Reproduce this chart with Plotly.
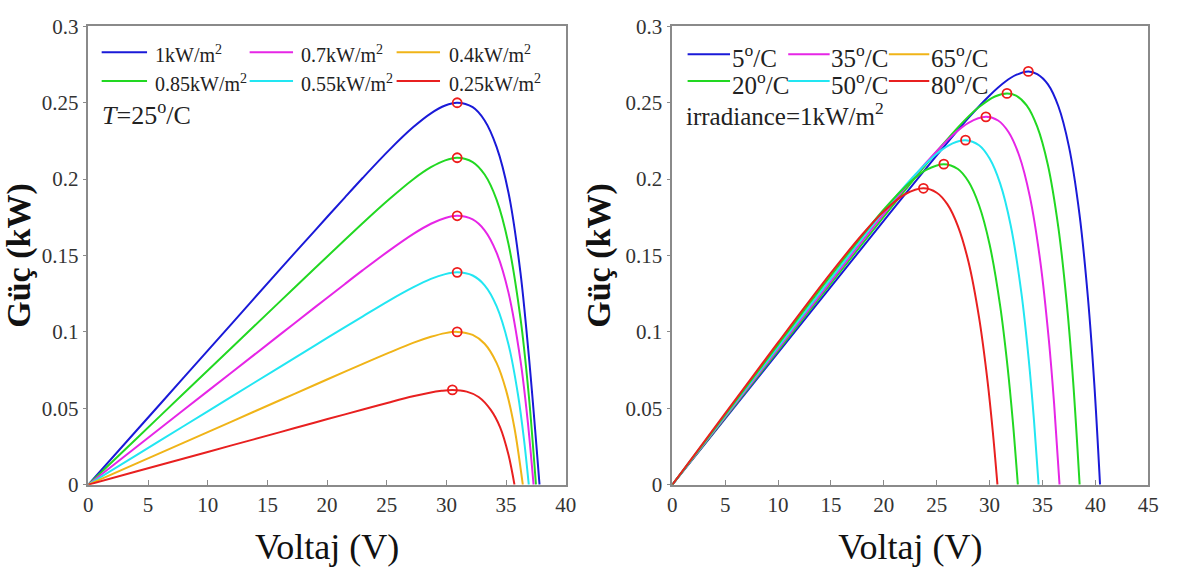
import plotly.graph_objects as go

# ---------------- Left panel: irradiance sweep at T = 25 °C ----------------
irr_labels = ["1kW/m<sup>2</sup>", "0.85kW/m<sup>2</sup>", "0.7kW/m<sup>2</sup>",
              "0.55kW/m<sup>2</sup>", "0.4kW/m<sup>2</sup>", "0.25kW/m<sup>2</sup>"]
irr_colors = ["#1a1ad8", "#22d822", "#e626e6", "#22e6f2", "#f0b418", "#e82020"]

# maximum power points (V, kW)
irr_mpp_v = [30.9, 30.9, 30.9, 30.9, 30.9, 30.5]
irr_mpp_p = [0.250, 0.214, 0.176, 0.139, 0.100, 0.062]

irr_v = [
    [0, 4, 8, 12, 16, 19, 21.5, 23, 25.2, 27.2, 28.7, 29.9, 32.2, 33.2, 34.2, 35.2, 36.2, 37.0, 37.8],
    [0, 4, 8, 12, 16, 19, 21.5, 23, 25.2, 27.2, 28.7, 29.9, 32.2, 33.2, 34.2, 35.2, 36.2, 36.9, 37.5],
    [0, 4, 8, 12, 16, 19, 21.5, 23, 25.2, 27.2, 28.7, 29.9, 32.2, 33.2, 34.2, 35.2, 36.2, 36.8, 37.3],
    [0, 4, 8, 12, 16, 19, 21.5, 23, 25.2, 27.2, 28.7, 29.9, 32.2, 33.2, 34.2, 35.2, 36.0, 36.5, 36.9],
    [0, 4, 8, 12, 16, 19, 21.5, 23, 25.2, 27.2, 28.7, 29.9, 32.2, 33.2, 34.2, 35.0, 35.7, 36.4],
    [0, 4, 8, 12, 16, 19, 21.5, 23, 25.2, 27.2, 28.5, 29.6, 31.7, 32.7, 33.7, 34.5, 35.2, 35.7],
]
irr_p = [
    [0, 0.0351, 0.0702, 0.1053, 0.1404, 0.1665, 0.1881, 0.2009, 0.2190, 0.2339, 0.2431, 0.2482,
     0.2471, 0.2384, 0.2211, 0.1911, 0.1390, 0.0760, 0],
    [0, 0.0299, 0.0598, 0.0896, 0.1195, 0.1418, 0.1603, 0.1713, 0.1868, 0.1998, 0.2078, 0.2123,
     0.2112, 0.2030, 0.1866, 0.1575, 0.1091, 0.0585, 0],
    [0, 0.0245, 0.0490, 0.0734, 0.0979, 0.1162, 0.1314, 0.1404, 0.1532, 0.1640, 0.1708, 0.1746,
     0.1736, 0.1665, 0.1519, 0.1257, 0.0815, 0.0424, 0],
    [0, 0.0192, 0.0384, 0.0576, 0.0768, 0.0912, 0.1031, 0.1102, 0.1205, 0.1291, 0.1347, 0.1378,
     0.1369, 0.1305, 0.1169, 0.0918, 0.0587, 0.0295, 0],
    [0, 0.0138, 0.0275, 0.0413, 0.0551, 0.0654, 0.0740, 0.0791, 0.0864, 0.0928, 0.0968, 0.0992,
     0.0980, 0.0922, 0.0797, 0.0617, 0.0371, 0],
    [0, 0.0086, 0.0171, 0.0257, 0.0342, 0.0407, 0.0460, 0.0492, 0.0538, 0.0578, 0.0600, 0.0614,
     0.0609, 0.0574, 0.0491, 0.0375, 0.0195, 0],
]

# ---------------- Right panel: temperature sweep at 1 kW/m² ----------------
temp_labels = ["5<sup>o</sup>/C", "20<sup>o</sup>/C", "35<sup>o</sup>/C",
               "50<sup>o</sup>/C", "65<sup>o</sup>/C", "80<sup>o</sup>/C"]
temp_colors = ["#1a1ad8", "#22d822", "#e626e6", "#22e6f2", "#22d822", "#e82020"]
temp_key_colors = ["#1a1ad8", "#22d822", "#e626e6", "#22e6f2", "#f0b418", "#e82020"]

temp_mpp_v = [33.66, 31.64, 29.65, 27.72, 25.67, 23.74]
temp_mpp_p = [0.2705, 0.2561, 0.2408, 0.2255, 0.2098, 0.194]

temp_v = [
    [0, 10, 20, 25, 28, 30, 31.5, 32.5, 34.5, 35.5, 36.5, 37.5, 38.5, 39.3, 39.9, 40.44],
    [0, 10, 20, 25, 27.5, 29, 30.5, 32.5, 33.5, 34.5, 35.5, 36.5, 37.3, 37.9, 38.51],
    [0, 10, 20, 24, 26.5, 28, 30.8, 31.8, 32.8, 33.8, 34.8, 35.6, 36.1, 36.61],
    [0, 10, 20, 23, 25, 26.5, 29, 30, 31, 32, 33, 33.7, 34.2, 34.63],
    [0, 10, 15, 20, 22.5, 24, 27, 28, 29, 30, 31, 31.7, 32.2, 32.67],
    [0, 5, 10, 15, 18, 20, 22, 25, 26, 27, 28, 29, 29.8, 30.3, 30.74],
]
temp_p = [
    [0, 0.0864, 0.1728, 0.2155, 0.2401, 0.2548, 0.2639, 0.2682, 0.2688, 0.2622, 0.2477, 0.2213, 0.1768, 0.1220, 0.0656, 0],
    [0, 0.0878, 0.1755, 0.2181, 0.2375, 0.2472, 0.2541, 0.2547, 0.2483, 0.2344, 0.2096, 0.1683, 0.1183, 0.0673, 0],
    [0, 0.0889, 0.1772, 0.2108, 0.2288, 0.2369, 0.2384, 0.2307, 0.2153, 0.1887, 0.1457, 0.0947, 0.0527, 0],
    [0, 0.0902, 0.1790, 0.2032, 0.2166, 0.2234, 0.2222, 0.2135, 0.1971, 0.1695, 0.1257, 0.0817, 0.0416, 0],
    [0, 0.0917, 0.1370, 0.1801, 0.1981, 0.2060, 0.2066, 0.1984, 0.1829, 0.1572, 0.1169, 0.0770, 0.0409, 0],
    [0, 0.0466, 0.0931, 0.1386, 0.1641, 0.1790, 0.1901, 0.1911, 0.1836, 0.1693, 0.1459, 0.1095, 0.0680, 0.0348, 0],
]

W, H = 1179, 581
SERIF = "Liberation Serif"
AXIS_GREY = "#8a8a8a"

fig = go.Figure()


def add_panel(vs, ps, mv, mp, colors, xa, ya):
    for v, p, vm, pm, c in zip(vs, ps, mv, mp, colors):
        pts = sorted(zip(list(v) + [vm], list(p) + [pm]))
        fig.add_trace(go.Scatter(
            x=[q[0] for q in pts], y=[q[1] for q in pts], mode="lines",
            line=dict(color=c, width=2, shape="spline", smoothing=0.9),
            xaxis=xa, yaxis=ya, showlegend=False, hoverinfo="skip"))
    fig.add_trace(go.Scatter(
        x=mv, y=mp, mode="markers",
        marker=dict(symbol="circle-open", size=9, color="#ee1c1c",
                    line=dict(width=1.8, color="#ee1c1c")),
        xaxis=xa, yaxis=ya, showlegend=False, hoverinfo="skip"))


add_panel(irr_v, irr_p, irr_mpp_v, irr_mpp_p, irr_colors, "x", "y")
add_panel(temp_v, temp_p, temp_mpp_v, temp_mpp_p, temp_colors, "x2", "y2")

# plot-area geometry in pixels
L1, R1 = 84.5, 568.5
L2, R2 = 676.5, 1159.0
TOP, BOT = 15.0, 493.0


def px(x):
    return x / W


def py(y):
    return 1 - y / H


def xaxis(dom, rng, dtick):
    return dict(domain=[px(dom[0]), px(dom[1])], range=rng, dtick=dtick,
                showline=True, mirror=True, linecolor=AXIS_GREY, linewidth=1.5,
                ticks="inside", ticklen=5, tickcolor=AXIS_GREY, showgrid=False,
                zeroline=False, tickfont=dict(family=SERIF, size=21, color="#333"),
                title=dict(text="Voltaj (V)", standoff=18,
                           font=dict(family=SERIF, size=36, color="#111")))


def yaxis(anchor):
    return dict(domain=[py(BOT), py(TOP)], range=[0, 0.3], dtick=0.05,
                tickformat="~g", anchor=anchor,
                showline=True, mirror=True, linecolor=AXIS_GREY, linewidth=1.5,
                ticks="outside", ticklen=4, tickcolor=AXIS_GREY, showgrid=False,
                zeroline=False, tickfont=dict(family=SERIF, size=21, color="#333"),
                title=dict(text="<b>Güç (kW)</b>", standoff=5,
                           font=dict(family=SERIF, size=34, color="#111")))


fig.update_layout(
    width=W, height=H, margin=dict(l=0, r=0, t=0, b=0),
    paper_bgcolor="white", plot_bgcolor="white",
    xaxis=xaxis((L1, R1), [0, 40], 5),
    yaxis=yaxis("x"),
    xaxis2=xaxis((L2, R2), [0, 45], 5) | dict(anchor="y2"),
    yaxis2=yaxis("x2"),
)

shapes, annotations = [], []


def key(labels, colors, cols_line, cols_text, rows, size):
    order = [(0, 0), (1, 0), (0, 1), (1, 1), (0, 2), (1, 2)]  # (row, col) per series
    for lab, c, (r, k) in zip(labels, colors, order):
        x0, x1 = cols_line[k]
        yy = rows[r]
        shapes.append(dict(type="line", xref="paper", yref="paper",
                           x0=px(x0), x1=px(x1), y0=py(yy), y1=py(yy),
                           line=dict(color=c, width=2)))
        annotations.append(dict(xref="paper", yref="paper", x=px(cols_text[k]),
                                y=py(yy + 2), xanchor="left", yanchor="middle",
                                text=lab, showarrow=False,
                                font=dict(family=SERIF, size=size, color="#222")))


key(irr_labels, irr_colors, [(98, 144), (248, 292), (397, 441)],
    [150, 298, 448], [42, 72], 20)
key(temp_labels, temp_key_colors, [(692, 735), (794, 836), (896, 937)],
    [735, 835, 937], [44, 72], 25)

annotations.append(dict(xref="paper", yref="paper", x=px(96), y=py(106),
                        xanchor="left", yanchor="middle", showarrow=False,
                        text="<i>T</i>=25<sup>o</sup>/C",
                        font=dict(family=SERIF, size=26, color="#222")))
annotations.append(dict(xref="paper", yref="paper", x=px(688), y=py(106),
                        xanchor="left", yanchor="middle", showarrow=False,
                        text="irradiance=1kW/m<sup>2</sup>",
                        font=dict(family=SERIF, size=25, color="#222")))

fig.update_layout(shapes=shapes, annotations=annotations)
fig.write_html("out.html")
